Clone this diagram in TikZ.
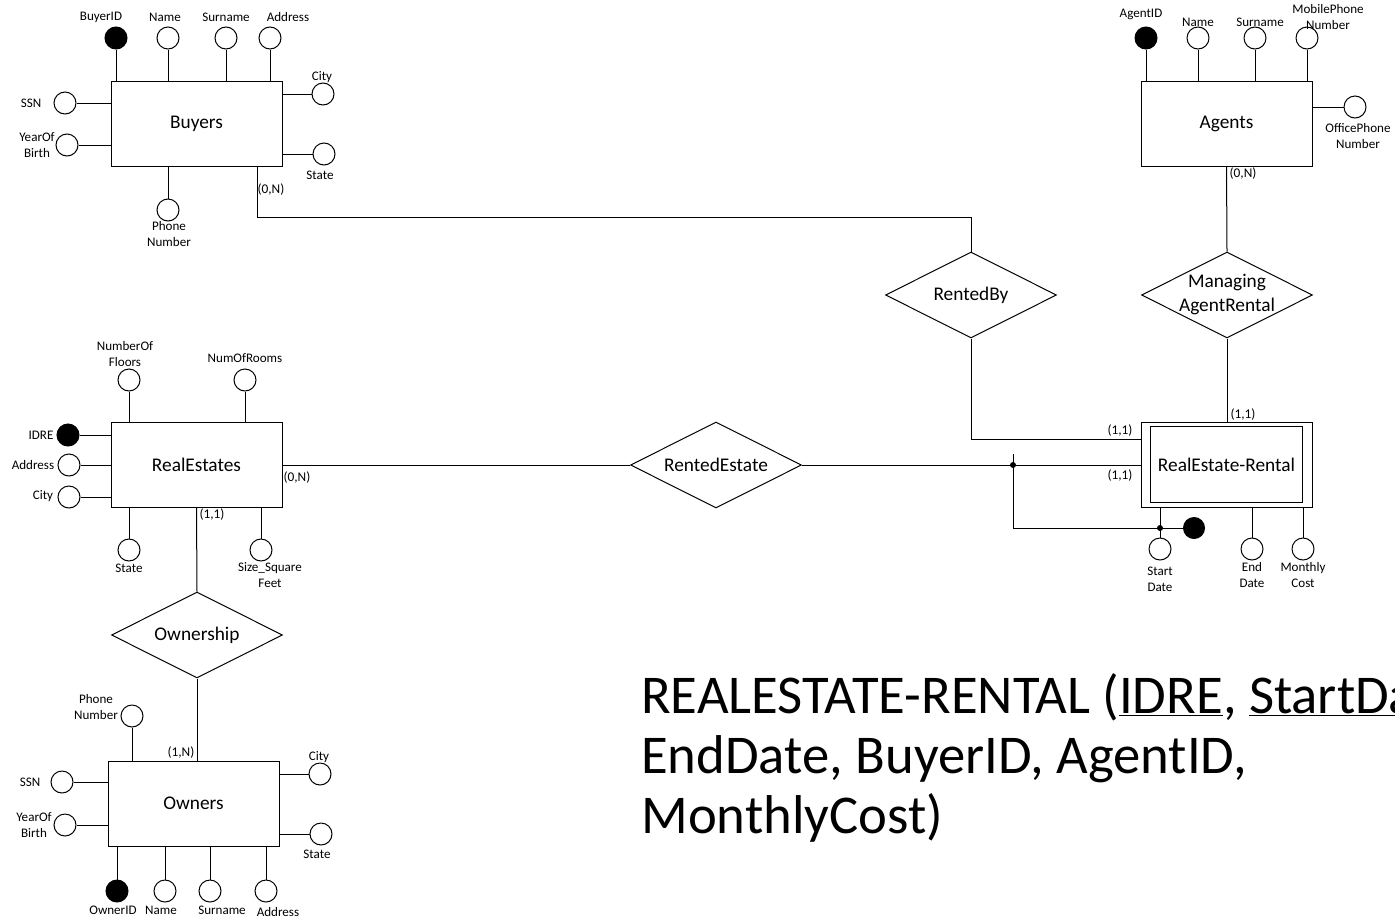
\documentclass[tikz,border=0pt]{standalone}
\usepackage{fontspec}
\setmainfont{Carlito}
\usetikzlibrary{shapes.geometric}

\begin{document}
\begin{tikzpicture}[x=0.75pt,y=-0.75pt,
  every node/.style={font=\fontsize{9.8}{12}\selectfont},
  entity/.style={draw,line width=0.75pt,minimum width=128.25pt,minimum height=63.75pt,inner sep=0pt,font=\fontsize{14.5}{17}\selectfont},
  rel/.style={diamond,draw,line width=0.75pt,minimum width=128.25pt,minimum height=64.5pt,inner sep=0pt,aspect=2,font=\fontsize{14.5}{17}\selectfont},
  attr/.style={circle,draw,line width=0.75pt,minimum size=16.5pt,inner sep=0pt},
  keyattr/.style={attr,fill=black},
  lbl/.style={align=center,inner sep=0pt},
  card/.style={inner sep=0pt,font=\fontsize{10}{12}\selectfont},
  schemaline/.style={anchor=base west,inner sep=0pt,font=\fontsize{41}{45}\selectfont},
  link/.style={line width=0.75pt}
]
\useasboundingbox (0,0) rectangle (1395,921);
\clip (0,0) rectangle (1395,921);

% entities
\node[entity] (buy) at (196.5,123.5) {Buyers};
\node[entity] (agt) at (1226.5,123.5) {Agents};
\node[entity] (res) at (196.5,465) {RealEstates};
\node[entity] (own) at (193.5,803.5) {Owners};
\node[entity] (rer) at (1226.5,464.5) {RealEstate-Rental};
\draw[link] ([shift={(10,5)}]rer.north west) rectangle ([shift={(-10,-5)}]rer.south east);

% relationships
\node[rel] (rb) at (971,295) {RentedBy};
\node[rel] (magr) at (1227,295) {};
\node[lbl,font=\fontsize{14.5}{18}\selectfont] (magrtxt) at (magr.center) {Managing\\AgentRental};
\node[rel] (rest) at (716,465) {RentedEstate};
\node[rel] (oship) at (197,635) {Ownership};

% Buyers attributes
\node[keyattr] (bid) at (116,38) {};
\node[attr] (bname) at (168,38) {};
\node[attr] (bsur) at (226,38) {};
\node[attr] (badd) at (270,38) {};
\node[attr] (bcity) at (323,94) {};
\node[attr] (bstate) at (324,154) {};
\node[attr] (bssn) at (65,103) {};
\node[attr] (byob) at (67,145) {};
\node[attr] (bphone) at (168,210) {};
\node[lbl] (bidl) at (101,17) {BuyerID};
\node[lbl] (bnamel) at (165,17) {Name};
\node[lbl] (bsurl) at (226,17) {Surname};
\node[lbl] (baddl) at (288,17) {Address};
\node[lbl] (bcityl) at (322,77) {City};
\node[lbl] (bstatel) at (320,175) {State};
\node[lbl] (bssnl) at (31,103) {SSN};
\node[lbl] (byobl) at (37,145) {YearOf\\Birth};
\node[lbl] (bphonel) at (169,234) {Phone\\Number};
\foreach \a in {bid,bname,bsur,badd}
  \draw[link] (\a.south) -- (\a.south |- buy.north);
\foreach \a in {bcity,bstate}
  \draw[link] (\a.west) -- (\a.west -| buy.east);
\foreach \a in {bssn,byob}
  \draw[link] (\a.east) -- (\a.east -| buy.west);
\draw[link] (bphone.north) -- (bphone.north |- buy.south);

% Agents attributes
\node[keyattr] (aid) at (1146,38) {};
\node[attr] (aname) at (1198,38) {};
\node[attr] (asur) at (1255,38) {};
\node[attr] (amob) at (1307,38) {};
\node[attr] (aoff) at (1355,107) {};
\node[lbl] (aidl) at (1141,14) {AgentID};
\node[lbl] (anamel) at (1198,22) {Name};
\node[lbl] (asurl) at (1260,22) {Surname};
\node[lbl] (amobl) at (1328,17.5) {MobilePhone\\Number};
\node[lbl] (aoffl) at (1358,136.5) {OfficePhone\\Number};
\foreach \a in {aid,aname,asur,amob}
  \draw[link] (\a.south) -- (\a.south |- agt.north);
\draw[link] (aoff.west) -- (aoff.west -| agt.east);

% RealEstates attributes
\node[attr] (nfl) at (129,380) {};
\node[attr] (nrm) at (245,380) {};
\node[keyattr] (idre) at (68,435) {};
\node[attr] (radd) at (69,465) {};
\node[attr] (rcity) at (69,497) {};
\node[attr] (rstate) at (129,550) {};
\node[attr] (rsize) at (261,550) {};
\node[lbl] (nfll) at (125,354.5) {NumberOf\\Floors};
\node[lbl] (nrml) at (245,358) {NumOfRooms};
\node[lbl] (idrel) at (41,435) {IDRE};
\node[lbl] (raddl) at (33,465) {Address};
\node[lbl] (rcityl) at (43,496) {City};
\node[lbl] (rstatel) at (129,568) {State};
\node[lbl] (rsizel) at (270,575.5) {Size\_Square\\Feet};
\foreach \a in {nfl,nrm}
  \draw[link] (\a.south) -- (\a.south |- res.north);
\foreach \a in {idre,radd,rcity}
  \draw[link] (\a.east) -- (\a.east -| res.west);
\foreach \a in {rstate,rsize}
  \draw[link] (\a.north) -- (\a.north |- res.south);

% RealEstate-Rental attributes
\node[attr] (sdate) at (1160,549) {};
\node[keyattr,minimum size=15.75pt] (rkey) at (1194,528) {};
\node[attr] (edate) at (1252,549) {};
\node[attr] (mcost) at (1303,549) {};
\node[lbl] (sdatel) at (1160,579.5) {Start\\Date};
\node[lbl] (edatel) at (1252,575.5) {End\\Date};
\node[lbl] (mcostl) at (1303,575.5) {Monthly\\Cost};
\foreach \a in {sdate,edate,mcost}
  \draw[link] (\a.north) -- (\a.north |- rer.south);

% Owners attributes
\node[attr] (ophone) at (132,716) {};
\node[attr] (ossn) at (62,782) {};
\node[attr] (oyob) at (65,825) {};
\node[attr] (ocity) at (320,774) {};
\node[attr] (ostate) at (321,834) {};
\node[keyattr] (oid) at (117,891) {};
\node[attr] (oname) at (165,891) {};
\node[attr] (osur) at (210,891) {};
\node[attr] (oadd) at (266,891) {};
\node[lbl] (ophonel) at (96,707) {Phone\\Number};
\node[lbl] (ossnl) at (30,782) {SSN};
\node[lbl] (oyobl) at (34,825) {YearOf\\Birth};
\node[lbl] (ocityl) at (319,757) {City};
\node[lbl] (ostatel) at (317,854) {State};
\node[lbl] (oidl) at (113,910) {OwnerID};
\node[lbl] (onamel) at (161,910) {Name};
\node[lbl] (osurl) at (222,910) {Surname};
\node[lbl] (oaddl) at (278,912) {Address};
\draw[link] (ophone.south) -- (ophone.south |- own.north);
\foreach \a in {ossn,oyob}
  \draw[link] (\a.east) -- (\a.east -| own.west);
\foreach \a in {ocity,ostate}
  \draw[link] (\a.west) -- (\a.west -| own.east);
\foreach \a in {oid,oname,osur,oadd}
  \draw[link] (\a.north) -- (\a.north |- own.south);

% relationship links
\coordinate (bout) at (257,166);
\coordinate (rbin) at (1141,439);
\draw[link] (bout) -- ++(0,51) -| (rb.north);
\draw[link] (rb.south) |- (rbin);
\draw[link] (agt.south) -- (magr.north);
\draw[link] (magr.south) -- (magr.south |- rer.north);
\draw[link] (res.east) -- (rest.west);
\draw[link] (rest.east) -- (rest.east -| rer.west);
\draw[link] (res.south) -- (oship.north);
\draw[link] (oship.south) -- (oship.south |- own.north);

% composite key of the rental
\coordinate (jtop) at (1013,454);
\coordinate (jn) at (1013,465);
\coordinate (jbot) at (1013,528);
\draw[link] (jtop) -- (jbot) -- (rkey.west);
\fill (jn) circle[radius=3];
\fill (sdate.north |- jbot) circle[radius=3];

% cardinalities
\node[card] (c1) at (271,190) {(0,N)};
\node[card] (c2) at (1243,174) {(0,N)};
\node[card] (c3) at (1243,415) {(1,1)};
\node[card] (c4) at (1120,431) {(1,1)};
\node[card] (c5) at (1120,476) {(1,1)};
\node[card] (c6) at (297,478) {(0,N)};
\node[card] (c7) at (212,515) {(1,1)};
\node[card] (c8) at (181,753) {(1,N)};

% relational schema
\node[schemaline] (schema1) at (641,713) {REALESTATE-RENTAL (\underline{IDRE}, \underline{StartDate},};
\node[schemaline] (schema2) at (641,773) {EndDate, BuyerID, AgentID,};
\node[schemaline] (schema3) at (641,833) {MonthlyCost)};
\end{tikzpicture}
\end{document}
